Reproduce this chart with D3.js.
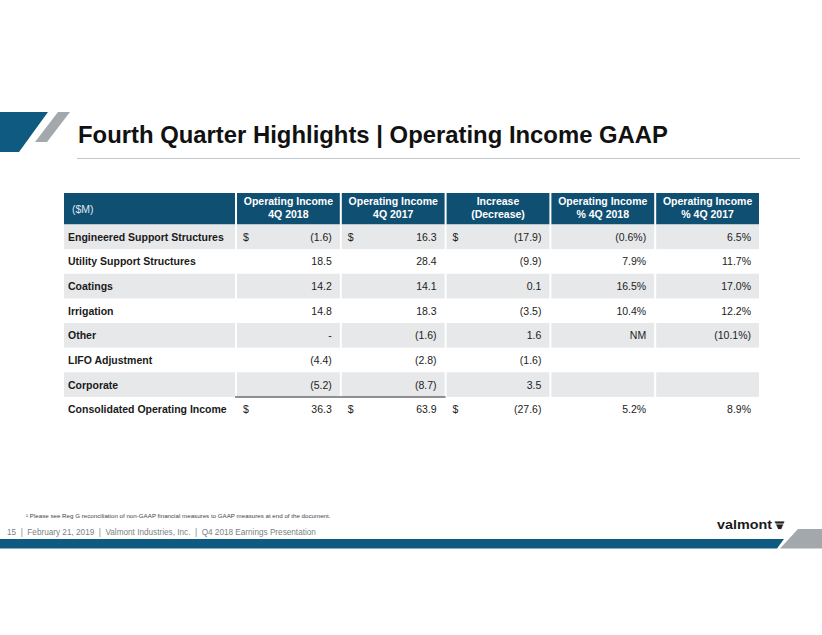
<!DOCTYPE html>
<html><head><meta charset="utf-8">
<script src="https://cdn.jsdelivr.net/npm/d3@7"></script>
<style>html,body{margin:0;padding:0;background:#fff;}svg{display:block;font-family:"Liberation Sans",Arial,sans-serif;}</style>
</head><body>
<script>
const title = "Fourth Quarter Highlights | Operating Income GAAP";
const unitLabel = "($M)";
const columnHeaders = [["Operating Income","4Q 2018"],["Operating Income","4Q 2017"],["Increase","(Decrease)"],["Operating Income","% 4Q 2018"],["Operating Income","% 4Q 2017"]];
const segments = ["Engineered Support Structures","Utility Support Structures","Coatings","Irrigation","Other","LIFO Adjustment","Corporate","Consolidated Operating Income"];
const income2018 = [-1.6, 18.5, 14.2, 14.8, 0, -4.4, -5.2, 36.3];
const income2017 = [16.3, 28.4, 14.1, 18.3, -1.6, -2.8, -8.7, 63.9];
const increase = [-17.9, -9.9, 0.1, -3.5, 1.6, -1.6, 3.5, -27.6];
const pct2018 = [-0.6, 7.9, 16.5, 10.4, "NM", null, null, 5.2];
const pct2017 = [6.5, 11.7, 17.0, 12.2, -10.1, null, null, 8.9];
const dollarRows = ["Engineered Support Structures","Consolidated Operating Income"];
const shadedRows = ["Engineered Support Structures","Coatings","Other","Corporate"];
const footnote = "\u00b9 Please see Reg G reconciliation of non-GAAP financial measures to GAAP measures at end of the document.";
const footer = "15  |  February 21, 2019  |  Valmont Industries, Inc.  |  Q4 2018 Earnings Presentation";

const W = 822, H = 635;
const svg = d3.select("body").append("svg").attr("width", W).attr("height", H);
const blue = "#0f4f72", gray = "#a3a8ad", shade = "#e7e8ea";
const fs = 10.5;

// decorations top-left
svg.append("path").attr("d","M0,112 L48,112 L19,152 L0,152 Z").attr("fill","#0f5a80");
svg.append("path").attr("d","M58,112 L70,112 L47,142 L35,142 Z").attr("fill",gray);
svg.append("text").attr("x",78).attr("y",143).attr("font-size",24.5).attr("font-weight","bold").attr("fill","#111")
  .attr("textLength",590).attr("lengthAdjust","spacingAndGlyphs").text(title);
svg.append("line").attr("x1",77).attr("x2",800).attr("y1",158.5).attr("y2",158.5).attr("stroke","#c4c8cc").attr("stroke-width",1.2);

// table scales
const labelX0 = 64, labelX1 = 235;
const x = d3.scaleBand().domain(d3.range(5)).range([235, 759]).paddingInner(0.0);
const rowsY = d3.scaleBand().domain(segments).range([224.5, 421.5]);
const headerTop = 193, headerBottom = 224.5;
const gap = 2;

const fmtNum = v => v === 0 ? "-" : (v < 0 ? "(" + d3.format(".1f")(-v) + ")" : d3.format(".1f")(v));
const fmtPct = v => v === null ? "" : (typeof v === "string" ? v : (v < 0 ? "(" + d3.format(".1f")(-v) + "%)" : d3.format(".1f")(v) + "%"));
const cols = [income2018.map(fmtNum), income2017.map(fmtNum), increase.map(fmtNum), pct2018.map(fmtPct), pct2017.map(fmtPct)];

// header
const hdr = svg.append("g");
hdr.append("rect").attr("x",labelX0).attr("y",headerTop).attr("width",labelX1-labelX0).attr("height",headerBottom-headerTop).attr("fill",blue);
hdr.append("text").attr("x",labelX0+8).attr("y",(headerTop+headerBottom)/2+4).attr("font-size",fs).attr("fill","#dfe8ee").text(unitLabel);
columnHeaders.forEach((h,i)=>{
  const cx = x(i)+gap, cw = x.bandwidth()-gap;
  hdr.append("rect").attr("x",cx).attr("y",headerTop).attr("width",cw).attr("height",headerBottom-headerTop).attr("fill",blue);
  h.forEach((line,j)=>{
    hdr.append("text").attr("x",cx+cw/2).attr("y",headerTop+12+j*12.5).attr("text-anchor","middle")
      .attr("font-size",fs).attr("font-weight","bold").attr("fill","#fff").text(line);
  });
});

// rows
const body = svg.append("g");
segments.forEach((seg,r)=>{
  const y0 = rowsY(seg), rh = rowsY.bandwidth();
  const ty = y0 + rh/2 + 4;
  if (shadedRows.includes(seg)) {
    body.append("rect").attr("x",labelX0).attr("y",y0).attr("width",labelX1-labelX0).attr("height",rh).attr("fill",shade);
    d3.range(5).forEach(i=>{
      body.append("rect").attr("x",x(i)+gap).attr("y",y0).attr("width",x.bandwidth()-gap).attr("height",rh).attr("fill",shade);
    });
  }
  body.append("text").attr("x",labelX0+4).attr("y",ty).attr("font-size",fs).attr("font-weight","bold").attr("fill","#1a1a1a").text(seg);
  cols.forEach((c,i)=>{
    const cx = x(i)+gap, cw = x.bandwidth()-gap;
    body.append("text").attr("x",cx+cw-8).attr("y",ty).attr("text-anchor","end").attr("font-size",fs).attr("fill","#222").text(c[r]);
    if (dollarRows.includes(seg) && i < 3) {
      body.append("text").attr("x",cx+6).attr("y",ty).attr("font-size",fs).attr("fill","#222").text("$");
    }
  });
});
// total line under corporate
const lineY = rowsY("Consolidated Operating Income");
svg.append("line").attr("x1",x(0)).attr("x2",x(1)+x.bandwidth()+1).attr("y1",lineY).attr("y2",lineY).attr("stroke","#6b6e72").attr("stroke-width",1.5);

// footer
svg.append("text").attr("x",26).attr("y",518).attr("font-size",6.2).attr("fill","#444").text(footnote);
svg.append("text").attr("x",7).attr("y",535).attr("font-size",8.2).attr("fill","#7a7f85").style("white-space","pre").text(footer);
svg.append("path").attr("d","M0,539 L784,539 L777,548.5 L0,548.5 Z").attr("fill","#0f5a80");
svg.append("path").attr("d","M798,529 L822,529 L822,548.5 L780,548.5 Z").attr("fill",gray);
svg.append("text").attr("x",717).attr("y",529).attr("font-size",13).attr("font-weight","bold").attr("fill","#1a1a1a")
  .attr("textLength",55).attr("lengthAdjust","spacingAndGlyphs").text("valmont");
svg.append("path").attr("d","M774,521 L785,521 L781.5,529.5 L778,529.5 Z M775.5,524 L783.5,524").attr("fill","#222").attr("stroke","#fff").attr("stroke-width",0.8);
</script>
</body></html>
